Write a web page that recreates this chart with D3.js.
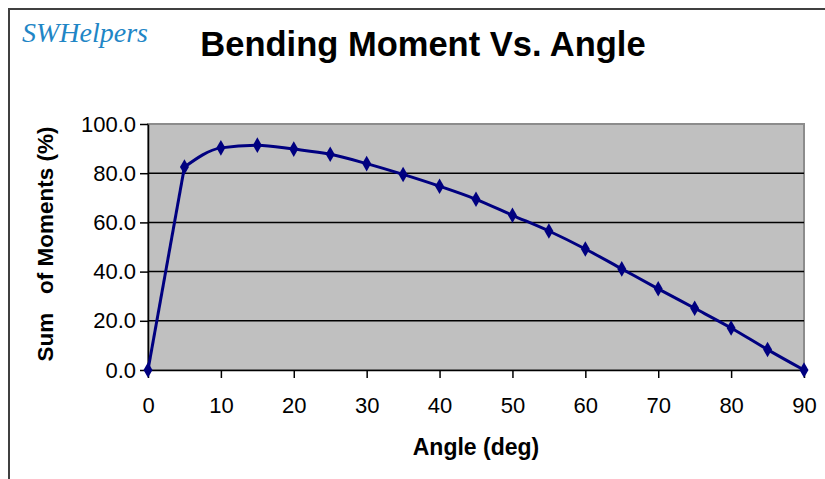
<!DOCTYPE html>
<html>
<head>
<meta charset="utf-8">
<script src="https://cdn.jsdelivr.net/npm/d3@7"></script>
<style>
  html, body { margin: 0; padding: 0; background: #ffffff; }
  svg { display: block; }
</style>
</head>
<body>
<div id="chart"></div>
<script>
const ENGFONT = "Liberation Sans, Arial, sans-serif";
const COLOR_LINE = "#000080";
const COLOR_PLOT = "#C0C0C0";
const COLOR_GRID = "#000000";
const COLOR_FRAME = "#404040";

// data
const angles = [0, 5, 10, 15, 20, 25, 30, 35, 40, 45, 50, 55, 60, 65, 70, 75, 80, 85, 90];
const moments = [0, 82.5, 90.3, 91.4, 89.8, 87.7, 83.9, 79.5, 74.7, 69.4, 62.9, 56.5, 49.2, 41.1, 33.0, 25.1, 17.1, 8.3, 0];
const xTicks = [0, 10, 20, 30, 40, 50, 60, 70, 80, 90];
const yTicks = [0, 20, 40, 60, 80, 100];

const chartSize = { width: 825, height: 479 };
const margin = { top: 124, right: 21, bottom: 109, left: 148 };
const width = chartSize.width - margin.left - margin.right;
const height = chartSize.height - margin.top - margin.bottom;

const root = d3.select("#chart")
    .append("svg")
    .attr("width", chartSize.width)
    .attr("height", chartSize.height)
    .attr("font-family", ENGFONT);

// outer chart frame (runs past the right and bottom edge)
root.append("rect")
    .attr("x", 9)
    .attr("y", 9)
    .attr("width", 840)
    .attr("height", 500)
    .attr("fill", "#ffffff")
    .attr("stroke", COLOR_FRAME)
    .attr("stroke-width", 2);

// logo
root.append("text")
    .attr("x", 22)
    .attr("y", 42)
    .attr("font-family", "Liberation Serif, serif")
    .attr("font-style", "italic")
    .attr("font-size", "28px")
    .attr("fill", "#1f86c6")
    .text("SWHelpers");

// title
root.append("text")
    .attr("x", 423)
    .attr("y", 56)
    .attr("text-anchor", "middle")
    .attr("font-size", "34.5px")
    .attr("font-weight", "bold")
    .attr("fill", "#000")
    .text("Bending Moment Vs. Angle");

const svg = root.append("g")
    .attr("transform", "translate(" + margin.left + "," + margin.top + ")");

const x = d3.scaleLinear().domain([0, 90]).range([0, width]);
const y = d3.scaleLinear().domain([0, 100]).range([height, 0]);

// plot area
svg.append("rect")
    .attr("x", 0)
    .attr("y", 0)
    .attr("width", width)
    .attr("height", height)
    .attr("fill", COLOR_PLOT)
    .attr("stroke", "#8c8c8c")
    .attr("stroke-width", 2);

// grid lines
svg.append("g").selectAll("line")
    .data(yTicks.filter(d => d > 0 && d < 100)).enter().append("line")
    .attr("x1", 0)
    .attr("x2", width)
    .attr("y1", d => y(d))
    .attr("y2", d => y(d))
    .attr("stroke", COLOR_GRID)
    .attr("stroke-width", 1.5);

// y axis
svg.append("g")
    .call(d3.axisLeft(y).tickValues(yTicks).tickFormat(d3.format(".1f")).tickSize(8).tickSizeOuter(0))
    .call(g => {
        g.attr("font-size", "22px").attr("font-family", ENGFONT);
        g.select(".domain").attr("stroke", "#000").attr("stroke-width", 1.5);
        g.selectAll(".tick line").attr("stroke", "#000").attr("stroke-width", 1.5);
        g.selectAll("text").attr("x", -12).attr("fill", "#000");
    });

// x axis
svg.append("g")
    .attr("transform", "translate(0," + height + ")")
    .call(d3.axisBottom(x).tickValues(xTicks).tickSize(8).tickSizeOuter(0))
    .call(g => {
        g.attr("font-size", "22px").attr("font-family", ENGFONT);
        g.select(".domain").attr("stroke", "#000").attr("stroke-width", 1.5);
        g.selectAll(".tick line").attr("stroke", "#000").attr("stroke-width", 1.5);
        g.selectAll("text").attr("y", 27).attr("fill", "#000");
    });

// axis titles
root.append("text")
    .attr("x", 476)
    .attr("y", 455)
    .attr("text-anchor", "middle")
    .attr("font-size", "23px")
    .attr("font-weight", "bold")
    .text("Angle (deg)");

root.append("text")
    .attr("transform", "translate(53,244) rotate(-90)")
    .attr("text-anchor", "middle")
    .attr("font-size", "22.5px")
    .attr("font-weight", "bold")
    .attr("xml:space", "preserve")
    .style("white-space", "pre")
    .text("Sum   of Moments (%)");

// series: steep first leg is almost straight, the rest is smoothed
const pts = angles.map((a, i) => [a, moments[i]]);
const straight = d3.line()
    .x(d => x(d[0]))
    .y(d => y(d[1]));
const smooth = d3.line()
    .x(d => x(d[0]))
    .y(d => y(d[1]))
    .curve(d3.curveMonotoneX);

svg.append("path")
    .datum(pts.slice(0, 2))
    .attr("d", straight)
    .attr("fill", "none")
    .attr("stroke", COLOR_LINE)
    .attr("stroke-width", 3);

svg.append("path")
    .datum(pts.slice(1))
    .attr("d", smooth)
    .attr("fill", "none")
    .attr("stroke", COLOR_LINE)
    .attr("stroke-width", 3);

svg.append("g").selectAll("path")
    .data(pts).enter().append("path")
    .attr("transform", d => "translate(" + x(d[0]) + "," + y(d[1]) + ")")
    .attr("d", d3.symbol().type(d3.symbolDiamond).size(70))
    .attr("fill", COLOR_LINE);
</script>
</body>
</html>
